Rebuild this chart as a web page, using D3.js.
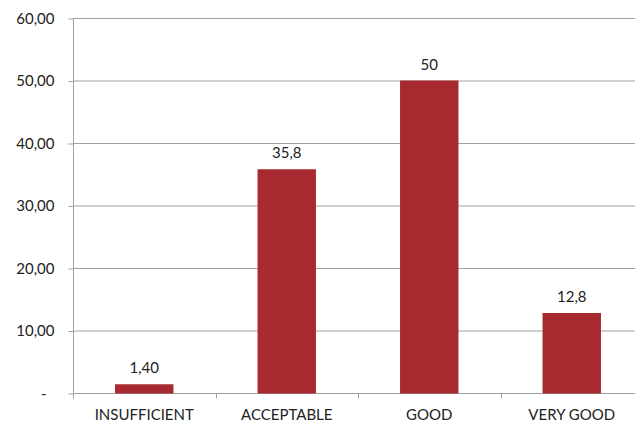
<!DOCTYPE html>
<html><head><meta charset="utf-8">
<script src="https://cdn.jsdelivr.net/npm/d3@7"></script>
<style>
html,body{margin:0;padding:0;background:#fff;}
svg{display:block;font-family:Lato,"Open Sans",sans-serif;}
</style></head>
<body>
<script>
const categories = ["INSUFFICIENT","ACCEPTABLE","GOOD","VERY GOOD"];
const values = [1.4, 35.8, 50, 12.8];
const valueLabels = ["1,40","35,8","50","12,8"];
const yTicks = [0,10,20,30,40,50,60];
const yTickLabels = ["-","10,00","20,00","30,00","40,00","50,00","60,00"];

const W = 635, H = 423;
const svg = d3.select("body").append("svg").attr("width", W).attr("height", H);

const x0 = 73, x1 = 643, yBase = 393, yTop = 18;
const x = d3.scaleBand().domain(categories).range([x0, x1]).padding(0);
const y = d3.scaleLinear().domain([0, 60]).range([yBase, yTop]);
const barW = x.bandwidth() * 0.41;

const gridColor = "#a0a0a0";

// gridlines
svg.append("g").selectAll("line").data(yTicks).join("line")
  .attr("x1", x0).attr("x2", W)
  .attr("y1", d => y(d) + 0.5).attr("y2", d => y(d) + 0.5)
  .attr("stroke", gridColor).attr("stroke-width", 1);

// y axis
const yAxis = d3.axisLeft(y).tickValues(yTicks).tickSize(5).tickPadding(14)
  .tickFormat((d, i) => yTickLabels[i]);
const gy = svg.append("g").attr("transform", `translate(${x0 + 0.5},0.5)`).call(yAxis);
gy.select(".domain").attr("stroke", gridColor).attr("d", `M0,${yTop}V${yBase + 5}`);
gy.selectAll(".tick line").attr("stroke", gridColor);
gy.selectAll(".tick text").attr("font-size", 15).attr("fill", "#222")
  .attr("font-family", "Lato, sans-serif")
  .attr("dx", (d) => d === 0 ? -8 : 0);

// x axis
const xAxis = d3.axisBottom(x).tickSize(0).tickPadding(16);
const gx = svg.append("g").attr("transform", `translate(0,${yBase + 0.5})`).call(xAxis);
gx.select(".domain").attr("stroke", gridColor).attr("d", `M${x0},0H${W}`);
gx.selectAll(".tick text").attr("font-size", 15).attr("fill", "#222")
  .attr("font-family", "Lato, sans-serif");
// category separator ticks
gx.append("g").selectAll("line").data(categories.slice(1)).join("line")
  .attr("x1", d => Math.round(x(d)) + 0.5).attr("x2", d => Math.round(x(d)) + 0.5)
  .attr("y1", 0).attr("y2", 5).attr("stroke", gridColor);

// bars
svg.append("g").selectAll("rect").data(values).join("rect")
  .attr("x", (d, i) => x(categories[i]) + (x.bandwidth() - barW) / 2)
  .attr("width", barW)
  .attr("y", d => y(d))
  .attr("height", d => yBase - y(d) + 0.5)
  .attr("fill", "#a62a2f");

// value labels
svg.append("g").selectAll("text").data(values).join("text")
  .attr("x", (d, i) => x(categories[i]) + x.bandwidth() / 2)
  .attr("y", d => y(d) - 11)
  .attr("text-anchor", "middle")
  .attr("font-size", 15).attr("fill", "#222")
  .text((d, i) => valueLabels[i]);
</script>
</body></html>
